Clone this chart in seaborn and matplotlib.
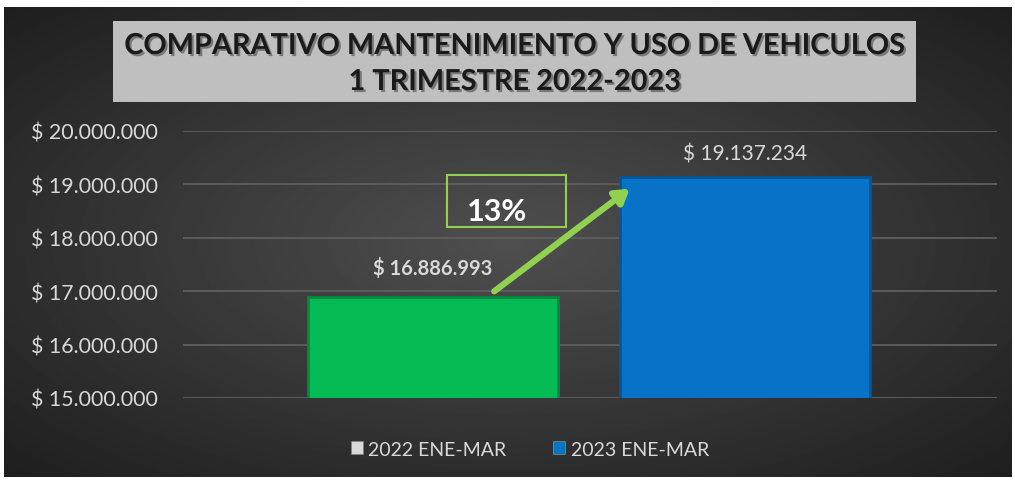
import numpy as np
import pandas as pd
import matplotlib.pyplot as plt
import matplotlib.patheffects as pe
from matplotlib.patches import Rectangle, FancyArrowPatch
from matplotlib.ticker import FuncFormatter
import seaborn as sns

# data
periods = ["2022 ENE-MAR", "2023 ENE-MAR"]
totals = [16886993, 19137234]
value_labels = ["$ 16.886.993", "$ 19.137.234"]
growth_label = "13%"
title_lines = ["COMPARATIVO MANTENIMIENTO Y USO DE VEHICULOS", "1 TRIMESTRE 2022-2023"]
y_ticks = [15000000, 16000000, 17000000, 18000000, 19000000, 20000000]

bar_colors = ["#05bb55", "#0673c6"]
legend_colors = ["#d9d9d9", "#0673c6"]
light = "#d9d9d9"

sns.set_theme(style="dark")
plt.rcParams['font.family'] = ['Lato', 'DejaVu Sans']

W, H = 1015, 481
fig = plt.figure(figsize=(W / 100, H / 100), dpi=100, facecolor="white")

def fx(px):
    return px / W

def fy(py):
    return 1 - py / H

# dark radial background
bg = fig.add_axes([fx(4), fy(478), fx(1011 - 4), fy(8) - fy(478)])
yy, xx = np.mgrid[-1:1:300j, -1:1:600j]
r = np.sqrt((xx * 0.9) ** 2 + (yy * 0.9) ** 2)
bg.imshow(0.31 - 0.15 * np.clip(r, 0, 1.3), cmap="gray", vmin=0, vmax=1,
          aspect="auto", extent=[0, 1, 0, 1])
bg.set_axis_off()

# title box
fig.patches.append(Rectangle((fx(113), fy(103)), fx(916 - 113), fy(22) - fy(103),
                             transform=fig.transFigure, facecolor="#bfbfbf",
                             edgecolor="none", zorder=1))
shadow = [pe.SimplePatchShadow(offset=(1.5, -1.5), shadow_rgbFace="#333333", alpha=0.5), pe.Normal()]
for i, line in enumerate(title_lines):
    fig.text(fx(515), fy(47 + 36 * i), line, ha="center", va="center", fontsize=20.8,
             fontweight="bold", color="#1a1a1a", zorder=2, path_effects=shadow)

# plot area
ax = fig.add_axes([fx(183), fy(399), fx(997 - 183), fy(132) - fy(399)])
ax.set_facecolor("none")
df = pd.DataFrame({"period": periods, "total": totals})
sns.barplot(data=df, x="period", y="total", hue="period", palette=bar_colors,
            saturation=1, width=0.8, ax=ax, legend=False)
for p, c in zip(ax.patches, ["#078a40", "#04569a"]):
    p.set_edgecolor(c)
    p.set_linewidth(2)
    p.set_zorder(3)

ax.set_ylim(y_ticks[0], y_ticks[-1])
ax.set_xlim(-0.801, 1.808)
ax.set_yticks(y_ticks)
ax.yaxis.set_major_formatter(FuncFormatter(lambda v, _: "$ " + f"{int(v):,}".replace(",", ".")))
ax.tick_params(axis="y", labelsize=15.4, labelcolor=light, pad=18, length=0)
ax.set_xticks([])
ax.set_xlabel("")
ax.set_ylabel("")
ax.grid(axis="y", color="#5c5c5c", linewidth=1.4)
ax.grid(axis="x", visible=False)
ax.set_axisbelow(True)
for s in ax.spines.values():
    s.set_visible(False)

# data labels
ax.annotate(value_labels[0], (0, totals[0]), xytext=(0, 14), textcoords="offset points",
            ha="center", va="bottom", fontsize=14.5, fontweight="bold", color=light)
ax.annotate(value_labels[1], (1, totals[1]), xytext=(0, 10), textcoords="offset points",
            ha="center", va="bottom", fontsize=15, color=light)

# growth arrow and box
arrow = FancyArrowPatch((fx(492), fy(294)), (fx(632), fy(188)), transform=fig.transFigure,
                        arrowstyle="-|>,head_length=8,head_width=5", color="#92d050",
                        linewidth=4.5, zorder=5)
fig.patches.append(arrow)
fig.patches.append(Rectangle((fx(447), fy(228)), fx(566 - 447), fy(176) - fy(228),
                             transform=fig.transFigure, facecolor="none",
                             edgecolor="#92d050", linewidth=1.5, zorder=4))
fig.text(fx(497), fy(212), growth_label, ha="center", va="center", fontsize=22,
         fontweight="bold", color="white", zorder=6)

# legend
handles = [Rectangle((0, 0), 1, 1, facecolor=c, edgecolor="#808080", linewidth=0.6)
           for c in legend_colors]
fig.legend(handles, periods, loc="center", bbox_to_anchor=(fx(530), fy(450)), ncol=2,
           frameon=False, fontsize=14, labelcolor=light, handlelength=0.6,
           handleheight=0.6, handletextpad=0.3, columnspacing=2.4)

fig.savefig("out.png", dpi=100, facecolor="white")
